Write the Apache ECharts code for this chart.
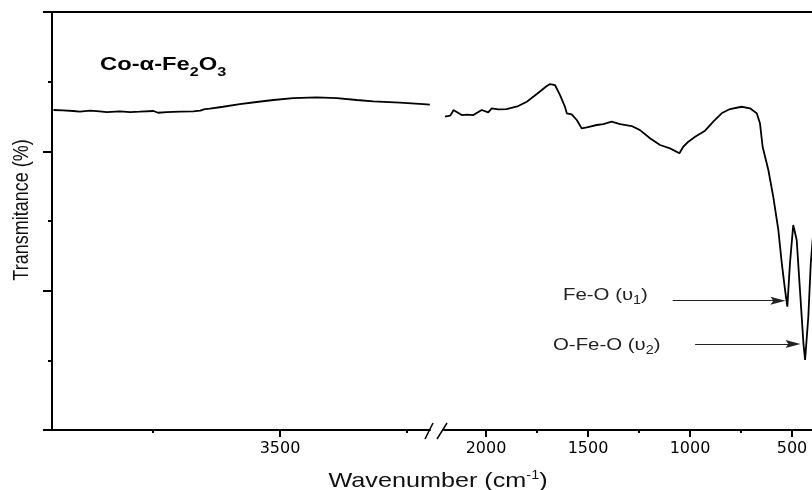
<!DOCTYPE html>
<html><head><meta charset="utf-8">
<script src="https://cdn.jsdelivr.net/npm/echarts@6/dist/echarts.min.js"></script>
<style>html,body{margin:0;padding:0;background:#fff}#c{width:812px;height:490px}</style>
</head><body><div id="c"></div>
<script>
// ---- data (wavenumber in cm^-1, transmittance in arbitrary %) ----
const wavenumberLeft = [3946,3927,3907,3894,3874,3855,3841,3815,3795,3776,3749,3740,3723,3697,3671,3657,3648,3638,3612,3579,3546,3513,3474,3428,3388,3349,3316,3264,3218,3205];
const transmittanceLeft = [45.93,45.89,45.79,45.69,45.83,45.74,45.64,45.74,45.64,45.69,45.79,45.54,45.64,45.69,45.74,45.83,46.07,46.12,46.40,46.79,47.08,47.37,47.65,47.75,47.65,47.37,47.18,46.98,46.79,46.69];
const wavenumberRight = [2201,2176,2167,2160,2152,2119,2093,2062,2021,1989,1972,1940,1899,1842,1800,1751,1702,1686,1662,1637,1613,1604,1580,1555,1531,1506,1457,1425,1384,1343,1286,1245,1196,1147,1098,1052,1033,1008,975,926,886,845,804,747,706,673,657,644,616,592,567,550,534,523,510,494,477,461,444,436,420,408,397];
const transmittanceRight = [44.97,45.11,45.50,45.93,45.69,45.21,45.28,45.21,45.93,45.60,46.17,46.03,46.07,46.50,47.12,48.23,49.38,49.66,49.52,48.08,46.40,45.46,45.31,44.50,43.30,43.45,43.78,43.92,44.25,43.92,43.63,43.05,41.87,40.91,40.43,39.72,40.66,41.38,42.10,42.96,44.25,45.46,46.07,46.40,46.17,45.46,44.02,40.66,37.32,33.49,28.71,23.93,20.09,17.70,23.93,29.42,27.27,20.09,12.44,10.05,16.26,23.93,28.0];
const xLabelsLeft = [3500];
const xMinorLeft = [3750, 3250];
const xLabelsRight = [2000, 1500, 1000, 500];
const xMinorRight = [1750, 1250, 750];
const yMajor = [0, 20, 40, 60];
const yMinor = [10, 30, 50];
const bandArrowStart = [1085, 975];
const bandArrowEnd = [569, 495];
const bandArrowLevel = [18.56, 12.34];

const FONT = '"Liberation Sans", Arial, sans-serif';
const leftRange = [3204.7, 3948.8];
const rightRange = [402, 2205.9];

function zip(a, b) { return a.map((v, i) => [v, b[i]]); }

function xMain(grid, range, labels) {
  return {type:'value', gridIndex:grid, min:range[0], max:range[1], inverse:true, position:'bottom',
    axisLine:{show:true, onZero:false, lineStyle:{color:'#000', width:2}},
    axisTick:{show:true, inside:false, length:7, lineStyle:{color:'#000', width:2}, customValues:labels},
    axisLabel:{show:true, customValues:labels, margin:11, color:'#000', fontFamily:'DejaVu Sans', fontSize:16,
      formatter:(v) => String(Math.round(v))},
    splitLine:{show:false}};
}
function xMinor(grid, range, vals) {
  return {type:'value', gridIndex:grid, min:range[0], max:range[1], inverse:true, position:'bottom',
    axisLine:{show:false, onZero:false},
    axisTick:{show:true, inside:false, length:3, lineStyle:{color:'#000', width:2}, customValues:vals},
    axisLabel:{show:false}, splitLine:{show:false}};
}

const ARROW = 'path://M5,0 L10,26 L5,21 L0,26 Z';

const option = {
  animation:false,
  backgroundColor:'#fff',
  grid:[
    {left:52, top:12, width:378, height:418},
    {left:444, top:12, width:368, height:418},
    {left:52, top:12, width:760, height:418}
  ],
  xAxis:[
    xMain(0, leftRange, xLabelsLeft),
    xMinor(0, leftRange, xMinorLeft),
    xMain(1, rightRange, xLabelsRight),
    xMinor(1, rightRange, xMinorRight),
    {type:'value', gridIndex:2, min:0, max:1, position:'top',
      axisLine:{show:true, onZero:false, lineStyle:{color:'#000', width:2}},
      axisTick:{show:false}, axisLabel:{show:false}, splitLine:{show:false}}
  ],
  yAxis:[
    {type:'value', gridIndex:0, min:0, max:60, position:'left',
      axisLine:{show:true, onZero:false, lineStyle:{color:'#000', width:2}},
      axisTick:{show:true, inside:false, length:9, lineStyle:{color:'#000', width:2}, customValues:yMajor},
      axisLabel:{show:false}, splitLine:{show:false}},
    {type:'value', gridIndex:0, min:0, max:60, position:'left',
      axisLine:{show:false, onZero:false},
      axisTick:{show:true, inside:false, length:4, lineStyle:{color:'#000', width:2}, customValues:yMinor},
      axisLabel:{show:false}, splitLine:{show:false}},
    {type:'value', gridIndex:1, min:0, max:60, show:false},
    {type:'value', gridIndex:2, min:0, max:60, show:false}
  ],
  series:[
    {type:'line', xAxisIndex:0, yAxisIndex:0, data:zip(wavenumberLeft, transmittanceLeft),
      showSymbol:false, symbol:'none', lineStyle:{color:'#000', width:1.8}, clip:true},
    {type:'line', xAxisIndex:2, yAxisIndex:2, data:zip(wavenumberRight, transmittanceRight),
      showSymbol:false, symbol:'none', lineStyle:{color:'#000', width:1.8}, clip:false,
      markLine:{silent:true, symbol:['none', ARROW], symbolSize:[1, [8, 15]],
        lineStyle:{color:'#222', width:1, type:'solid'}, itemStyle:{color:'#222'}, label:{show:false},
        data:bandArrowStart.map((s, i) => [
          {coord:[s, bandArrowLevel[i]]},
          {coord:[bandArrowEnd[i], bandArrowLevel[i]], symbol:ARROW, symbolSize:[8, 15]}
        ])}}
  ],
  graphic:[
    {type:'line', shape:{x1:425, y1:439, x2:433, y2:423}, style:{stroke:'#000', lineWidth:1.5}},
    {type:'line', shape:{x1:437, y1:439, x2:447, y2:423}, style:{stroke:'#000', lineWidth:1.5}},
    {type:'text', x:100, y:67, scaleX:1.25,
      style:{text:'{m|Co-α-Fe}{s|2}{m|O}{s|3}', align:'left', textAlign:'left', verticalAlign:'middle', textVerticalAlign:'middle', fill:'#000',
        rich:{m:{fontFamily:FONT, fontWeight:'bold', fontSize:19, fill:'#000', verticalAlign:'bottom', padding:[0,0,4,0]},
              s:{fontFamily:FONT, fontWeight:'bold', fontSize:13, fill:'#000', verticalAlign:'bottom'}}}},
    {type:'text', x:22, y:210, rotation:Math.PI/2, scaleY:1.2,
      style:{text:'Transmitance (%)', font:'18px ' + FONT, fill:'#111', align:'center', textAlign:'center', verticalAlign:'middle', textVerticalAlign:'middle'}},
    {type:'text', x:438, y:481, scaleX:1.2,
      style:{text:'{m|Wavenumber (cm}{p|-1}{m|)}', align:'center', textAlign:'center', verticalAlign:'middle', textVerticalAlign:'middle', fill:'#111',
        rich:{m:{fontFamily:FONT, fontSize:21, fill:'#111', verticalAlign:'bottom'},
              p:{fontFamily:FONT, fontSize:12, fill:'#111', verticalAlign:'bottom', padding:[0,0,10,0]}}}},
    {type:'text', x:563, y:297, scaleX:1.2,
      style:{text:'{m|Fe-O (υ}{s|1}{m|)}', align:'left', textAlign:'left', verticalAlign:'middle', textVerticalAlign:'middle', fill:'#222',
        rich:{m:{fontFamily:FONT, fontSize:17, fill:'#222', verticalAlign:'bottom', padding:[0,0,3,0]},
              s:{fontFamily:FONT, fontSize:12, fill:'#222', verticalAlign:'bottom'}}}},
    {type:'text', x:553, y:347, scaleX:1.2,
      style:{text:'{m|O-Fe-O (υ}{s|2}{m|)}', align:'left', textAlign:'left', verticalAlign:'middle', textVerticalAlign:'middle', fill:'#222',
        rich:{m:{fontFamily:FONT, fontSize:17, fill:'#222', verticalAlign:'bottom', padding:[0,0,3,0]},
              s:{fontFamily:FONT, fontSize:12, fill:'#222', verticalAlign:'bottom'}}}}
  ]
};
const chart = echarts.init(document.getElementById('c'), null, {renderer:'canvas'});
chart.setOption(option);
</script></body></html>
